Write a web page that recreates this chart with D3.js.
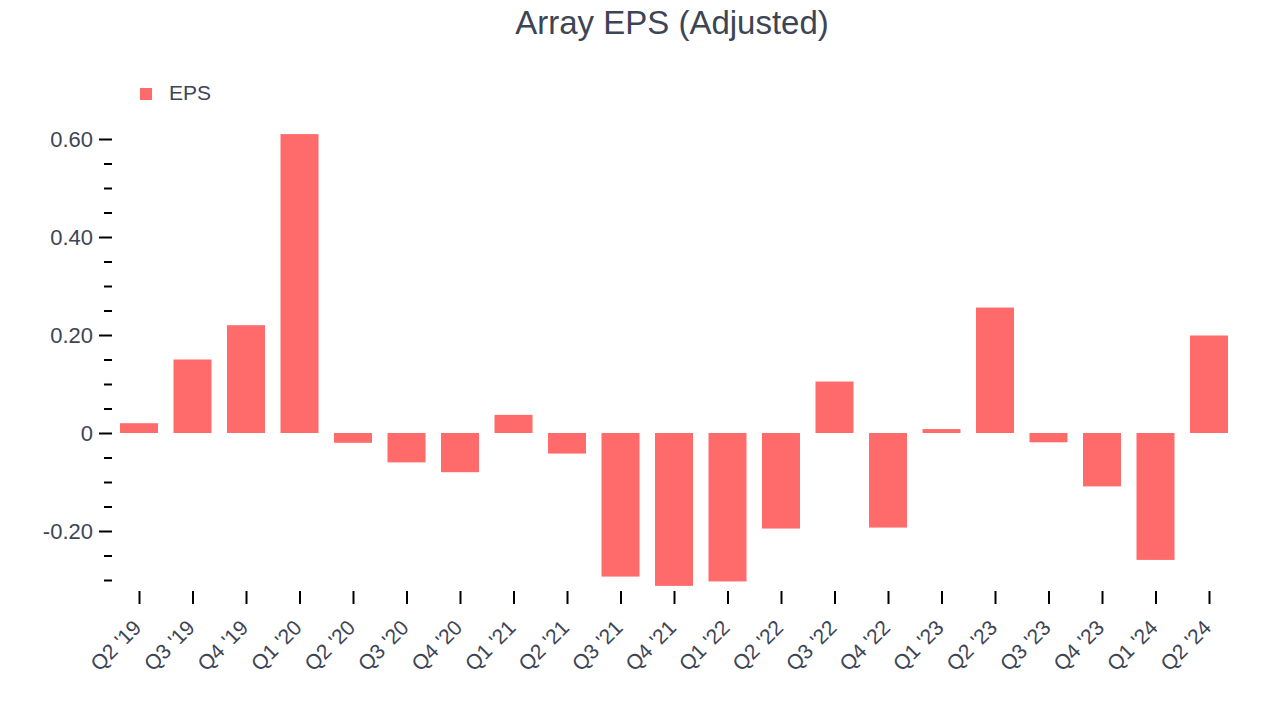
<!DOCTYPE html>
<html>
<head>
<meta charset="utf-8">
<script src="https://cdn.jsdelivr.net/npm/d3@7"></script>
<style>
  body { margin: 0; background: #fff; }
  text { font-family: "Liberation Sans", Arial, Helvetica, sans-serif; }
</style>
</head>
<body>
<div id="chart"></div>
<script>
// data
var quarters = ["Q2 '19", "Q3 '19", "Q4 '19", "Q1 '20", "Q2 '20", "Q3 '20", "Q4 '20",
                "Q1 '21", "Q2 '21", "Q3 '21", "Q4 '21", "Q1 '22", "Q2 '22", "Q3 '22",
                "Q4 '22", "Q1 '23", "Q2 '23", "Q3 '23", "Q4 '23", "Q1 '24", "Q2 '24"];
var eps = [0.02, 0.15, 0.22, 0.61, -0.02, -0.06, -0.08,
           0.037, -0.042, -0.293, -0.312, -0.303, -0.195, 0.105,
           -0.193, 0.008, 0.256, -0.019, -0.109, -0.259, 0.199];
var majorTicks = [-0.2, 0, 0.2, 0.4, 0.6];
var minorTicks = [-0.3, -0.25, -0.15, -0.1, -0.05, 0.05, 0.1, 0.15, 0.25, 0.3, 0.35, 0.45, 0.5, 0.55];

var textColor = "#3d4555";
var barColor = "#ff6b6b";

var svg = d3.select("#chart")
    .append("svg")
    .attr("width", 1280)
    .attr("height", 720);

// scales
var x = d3.scalePoint()
    .domain(quarters)
    .range([139, 1209]);
var barW = 38;

var y = d3.scaleLinear()
    .domain([-0.32, 0.62])
    .range([433 + 0.32 * 490, 433 - 0.62 * 490]);

// title
svg.append("text")
    .attr("x", 672)
    .attr("y", 34)
    .attr("text-anchor", "middle")
    .attr("font-size", 33)
    .attr("fill", textColor)
    .text("Array EPS (Adjusted)");

// legend
svg.append("rect")
    .attr("x", 140).attr("y", 88)
    .attr("width", 12).attr("height", 12)
    .attr("fill", barColor);
svg.append("text")
    .attr("x", 169).attr("y", 100)
    .attr("font-size", 21)
    .attr("fill", textColor)
    .text("EPS");

// y axis: major ticks
var yMajor = d3.axisLeft(y)
    .tickValues(majorTicks)
    .tickSize(13)
    .tickPadding(6)
    .tickFormat(function(d) { return d === 0 ? "0" : d3.format(".2f")(d).replace("\u2212", "-"); });
var gy = svg.append("g")
    .attr("transform", "translate(112,0)")
    .call(yMajor);
gy.select(".domain").remove();
gy.selectAll("line").attr("stroke", "#000").attr("stroke-width", 2);
gy.selectAll("text").attr("font-size", 22).attr("fill", textColor)
    .style("font-family", "'Liberation Sans', Arial, sans-serif");

// y axis: minor ticks
var yMinor = d3.axisLeft(y)
    .tickValues(minorTicks)
    .tickSize(8)
    .tickFormat("");
var gym = svg.append("g")
    .attr("transform", "translate(112,0)")
    .call(yMinor);
gym.select(".domain").remove();
gym.selectAll("line").attr("stroke", "#000").attr("stroke-width", 2);

// bars
svg.append("g")
    .selectAll("rect")
    .data(eps)
    .enter()
    .append("rect")
    .attr("x", function(d, i) { return x(quarters[i]) - barW / 2; })
    .attr("y", function(d) { return y(Math.max(0, d)); })
    .attr("width", barW)
    .attr("height", function(d) { return Math.abs(y(d) - y(0)); })
    .attr("fill", barColor);

// x axis
var xAxis = d3.axisBottom(x)
    .tickSize(13)
    .tickPadding(6);
var gx = svg.append("g")
    .attr("transform", "translate(0,591)")
    .call(xAxis);
gx.select(".domain").remove();
gx.selectAll("line").attr("stroke", "#000").attr("stroke-width", 2);
gx.selectAll("text")
    .attr("font-size", 21)
    .attr("fill", textColor)
    .style("font-family", "'Liberation Sans', Arial, sans-serif")
    .attr("text-anchor", "end")
    .attr("x", 0)
    .attr("y", 0)
    .attr("dy", 0)
    .attr("transform", "translate(3,38) rotate(-45)");
</script>
</body>
</html>
